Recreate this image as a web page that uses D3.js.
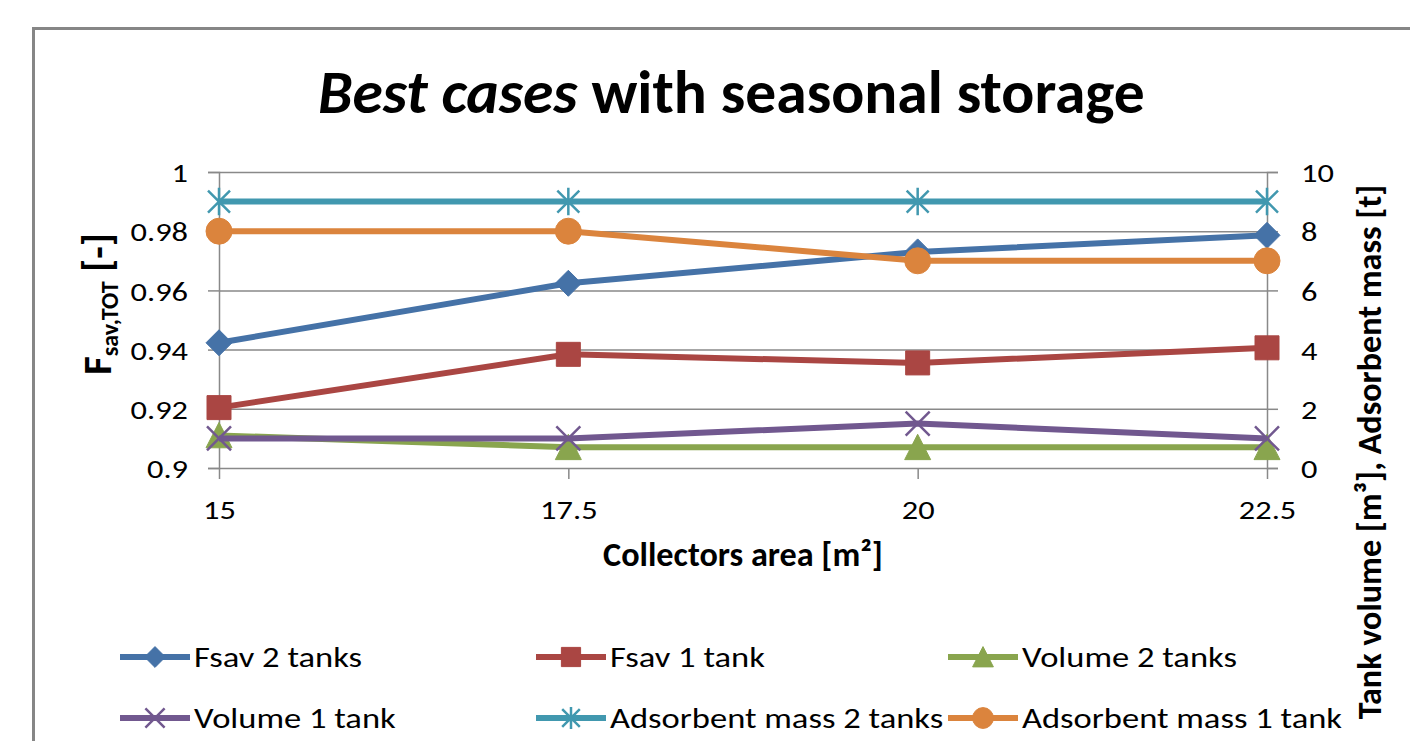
<!DOCTYPE html>
<html><head><meta charset="utf-8">
<script src="https://cdn.jsdelivr.net/npm/d3@7"></script>
<style>
html,body{margin:0;padding:0;background:#fff;}
svg{display:block;}
text{font-family:Carlito, Calibri, Lato, "Open Sans", sans-serif;fill:#000;}
</style></head>
<body><svg id="chart" width="1410" height="741"></svg>
<script>
// ---- data ----
const collectorArea = [15, 17.5, 20, 22.5];
const fsav2Tanks = [0.9423, 0.9624, 0.9730, 0.9786];
const fsav1Tank = [0.9204, 0.9384, 0.9355, 0.9406];
const volume2Tanks = [1.1, 0.7, 0.7, 0.7];
const volume1Tank = [1.0, 1.0, 1.5, 1.0];
const adsMass2Tanks = [9, 9, 9, 9];
const adsMass1Tank = [8, 8, 7, 7];
const leftTicks = [0.9, 0.92, 0.94, 0.96, 0.98, 1];
const rightTicks = [0, 2, 4, 6, 8, 10];
const seriesNames = ["Fsav 2 tanks", "Fsav 1 tank", "Volume 2 tanks", "Volume 1 tank", "Adsorbent mass 2 tanks", "Adsorbent mass 1 tank"];

const series = [
  {name: seriesNames[0], values: fsav2Tanks, axis: "L", color: "#4572A7", marker: "diamond"},
  {name: seriesNames[1], values: fsav1Tank, axis: "L", color: "#AA4643", marker: "square"},
  {name: seriesNames[2], values: volume2Tanks, axis: "R", color: "#89A54E", marker: "triangle"},
  {name: seriesNames[3], values: volume1Tank, axis: "R", color: "#71588F", marker: "x"},
  {name: seriesNames[4], values: adsMass2Tanks, axis: "R", color: "#4198AF", marker: "star"},
  {name: seriesNames[5], values: adsMass1Tank, axis: "R", color: "#DB843D", marker: "circle"}
];

const svg = d3.select("#chart");
const X0 = 219, X1 = 1267, Y0 = 468, Y1 = 172;
const x = d3.scaleLinear().domain([15, 22.5]).range([X0, X1]);
const yL = d3.scaleLinear().domain([0.9, 1]).range([Y0, Y1]);
const yR = d3.scaleLinear().domain([0, 10]).range([Y0, Y1]);
const grid = "#898989";
const STRETCH = 1.2;

// outer border
svg.append("rect").attr("x", 33.5).attr("y", 28.5).attr("width", 1420).attr("height", 760)
  .attr("fill", "#fff").attr("stroke", "#868686").attr("stroke-width", 3);

function fit(sel, target) {
  const w = sel.node().getComputedTextLength();
  const fs = parseFloat(sel.style("font-size"));
  sel.style("font-size", (fs * target / w) + "px");
}
function stretch(sel, f) {
  sel.each(function () {
    const w = this.getComputedTextLength();
    d3.select(this).attr("textLength", w * f).attr("lengthAdjust", "spacingAndGlyphs");
  });
}

// title
const title = svg.append("text").attr("x", 318).attr("y", 113).style("font-size", "56px").style("font-weight", "bold");
title.append("tspan").style("font-style", "italic").text("Best cases");
title.append("tspan").text(" with seasonal storage");
fit(title, 827);

// gridlines
svg.append("g").attr("transform", `translate(${X0},0)`)
  .call(d3.axisLeft(yL).tickValues(leftTicks).tickSize(-(X1 - X0)).tickFormat(""))
  .call(g => g.select(".domain").remove())
  .call(g => g.selectAll("line").attr("stroke", grid).attr("stroke-width", 1.5));

// left axis
const gl = svg.append("g").attr("transform", `translate(${X0},0)`)
  .call(d3.axisLeft(yL).tickValues(leftTicks).tickSize(11).tickPadding(20).tickFormat(d3.format("~g")));
gl.select(".domain").attr("stroke", grid).attr("stroke-width", 1.5);
gl.selectAll("line").attr("stroke", grid).attr("stroke-width", 1.5);
gl.selectAll("text").style("font-size", "27px").attr("fill", "#222").attr("dy", "0.36em").call(stretch, STRETCH);

// right axis
const gr = svg.append("g").attr("transform", `translate(${X1},0)`)
  .call(d3.axisRight(yR).tickValues(rightTicks).tickSize(11).tickPadding(23));
gr.select(".domain").attr("stroke", grid).attr("stroke-width", 1.5);
gr.selectAll("line").attr("stroke", grid).attr("stroke-width", 1.5);
gr.selectAll("text").style("font-size", "27px").attr("fill", "#222").attr("dy", "0.36em").call(stretch, STRETCH);

// bottom axis
const gb = svg.append("g").attr("transform", `translate(0,${Y0})`)
  .call(d3.axisBottom(x).tickValues(collectorArea).tickSize(11).tickPadding(21).tickFormat(d3.format("~g")));
gb.select(".domain").remove();
gb.selectAll("line").attr("stroke", grid).attr("stroke-width", 1.5);
gb.selectAll("text").style("font-size", "27px").attr("fill", "#222").attr("dy", "0.71em").call(stretch, STRETCH);

// axis titles
const xt = svg.append("text").attr("x", 743).attr("y", 566).attr("text-anchor", "middle")
  .style("font-size", "26px").style("font-weight", "bold").text("Collectors area [m²]");
fit(xt, 280);

const lt = svg.append("text").attr("transform", "translate(111,304) rotate(-90)").attr("text-anchor", "middle")
  .style("font-size", "32px").style("font-weight", "bold");
lt.append("tspan").text("F");
lt.append("tspan").attr("dy", 7).style("font-size", "24px").text("sav,TOT");
lt.append("tspan").attr("dy", -7).text(" [-]");
fit(lt, 163);

const rt = svg.append("text").attr("transform", "translate(1381,452) rotate(-90)").attr("text-anchor", "middle")
  .style("font-size", "26px").style("font-weight", "bold").text("Tank volume [m³], Adsorbent mass [t]");
fit(rt, 535);

// markers
function markerPath(type, r) {
  switch (type) {
    case "diamond": return `M0,${-r}L${r},0L0,${r}L${-r},0Z`;
    case "square": return `M${-r},${-r}H${r}V${r}H${-r}Z`;
    case "triangle": return `M0,${-r}L${r},${r * 0.95}L${-r},${r * 0.95}Z`;
    case "x": return `M${-r},${-r}L${r},${r}M${r},${-r}L${-r},${r}`;
    case "star": return `M${-r},${-r}L${r},${r}M${r},${-r}L${-r},${r}M0,${-r * 1.25}V${r * 1.25}`;
    case "circle": return d3.symbol(d3.symbolCircle, Math.PI * r * r)();
  }
}
function drawMarker(g, s, r) {
  const open = s.marker === "x" || s.marker === "star";
  g.append("path").attr("d", markerPath(s.marker, r))
    .attr("fill", open ? "none" : s.color)
    .attr("stroke", s.color).attr("stroke-width", open ? 2.5 : 1);
}

const lineGen = (s) => d3.line()
  .x((d, i) => x(collectorArea[i]))
  .y(d => (s.axis === "L" ? yL : yR)(d));

const rSize = {diamond: 13, square: 12, triangle: 13, x: 12, star: 11, circle: 13};
series.forEach(s => {
  const g = svg.append("g");
  g.append("path").attr("d", lineGen(s)(s.values)).attr("fill", "none")
    .attr("stroke", s.color).attr("stroke-width", 6).attr("stroke-linejoin", "round");
  s.values.forEach((v, i) => {
    const mg = g.append("g").attr("transform", `translate(${x(collectorArea[i])},${(s.axis === "L" ? yL : yR)(v)})`);
    drawMarker(mg, s, rSize[s.marker]);
  });
});

// legend
const legCols = [120, 536, 948];
const legRows = [657, 718];
series.forEach((s, i) => {
  const lx = legCols[i % 3], ly = legRows[Math.floor(i / 3)];
  const g = svg.append("g").attr("transform", `translate(${lx},${ly})`);
  g.append("line").attr("x1", 0).attr("x2", 70).attr("y1", 0).attr("y2", 0)
    .attr("stroke", s.color).attr("stroke-width", 6);
  const mg = g.append("g").attr("transform", "translate(35,0)");
  drawMarker(mg, s, rSize[s.marker] * 0.8);
  g.append("text").attr("x", 74).attr("y", 0).attr("dy", "0.36em")
    .style("font-size", "29px").attr("fill", "#222").text(s.name).call(stretch, 1.19);
});
</script></body></html>
